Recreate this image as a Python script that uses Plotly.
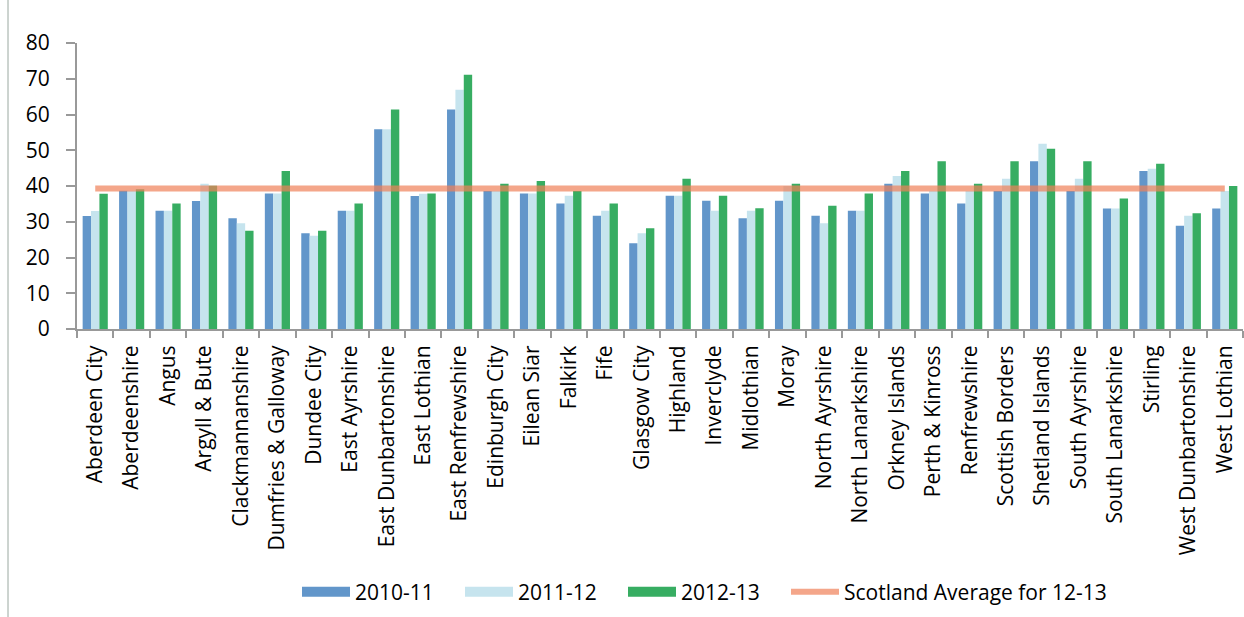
import plotly.graph_objects as go

categories = ["Aberdeen City", "Aberdeenshire", "Angus", "Argyll & Bute", "Clackmannanshire",
              "Dumfries & Galloway", "Dundee City", "East Ayrshire", "East Dunbartonshire",
              "East Lothian", "East Renfrewshire", "Edinburgh City", "Eilean Siar", "Falkirk",
              "Fife", "Glasgow City", "Highland", "Inverclyde", "Midlothian", "Moray",
              "North Ayrshire", "North Lanarkshire", "Orkney Islands", "Perth & Kinross",
              "Renfrewshire", "Scottish Borders", "Shetland Islands", "South Ayrshire",
              "South Lanarkshire", "Stirling", "West Dunbartonshire", "West Lothian"]

y2010_11 = [31.6, 38.7, 33.1, 35.8, 31.0, 37.9, 26.8, 33.1, 55.9, 37.2, 61.4, 38.6, 37.9, 35.1,
            31.7, 24.0, 37.3, 35.9, 31.0, 35.9, 31.7, 33.1, 40.6, 37.9, 35.1, 38.6, 46.9, 38.6,
            33.7, 44.2, 28.9, 33.7]
y2011_12 = [33.0, 38.7, 33.1, 40.6, 29.6, 37.9, 26.1, 33.1, 55.9, 37.8, 66.9, 38.6, 37.9, 37.3,
            33.1, 26.8, 37.3, 33.1, 33.1, 40.0, 29.6, 33.1, 42.8, 38.6, 38.6, 42.0, 51.8, 42.0,
            33.7, 44.8, 31.7, 38.6]
y2012_13 = [37.8, 39.1, 35.1, 40.1, 27.5, 44.2, 27.5, 35.1, 61.4, 37.9, 71.1, 40.6, 41.4, 38.6,
            35.1, 28.2, 42.0, 37.3, 33.8, 40.6, 34.5, 37.9, 44.2, 46.9, 40.6, 46.9, 50.4, 46.9,
            36.5, 46.2, 32.4, 40.0]
scotland_avg = 39.3

series_names = ["2010-11", "2011-12", "2012-13", "Scotland Average for 12-13"]
bar_colors = ["#6296CA", "#C6E4EE", "#37AD62"]
bar_values = [y2010_11, y2011_12, y2012_13]

fig = go.Figure()
for name, vals, col in zip(series_names[:3], bar_values, bar_colors):
    fig.add_bar(x=categories, y=vals, name=name, marker_color=col, marker_line_width=0,
                legendgroup=name, showlegend=False)
# wide swatches for the bar legend entries
for name, col in zip(series_names[:3], bar_colors):
    fig.add_scatter(x=[None], y=[None], name=name, mode="lines", legendgroup=name,
                    line=dict(color=col, width=14), legend="legend", hoverinfo="skip")
fig.add_scatter(x=categories, y=[scotland_avg] * len(categories), name=series_names[3],
                mode="lines", line=dict(color="rgba(240,128,88,0.7)", width=6),
                legend="legend2")

L, R, T, B = 77, 1, 43, 288
PW = 1244 - L - R
PH = 617 - T - B
legend_y = (329 - 592) / PH

fig.update_layout(
    width=1244, height=617,
    margin=dict(l=L, r=R, t=T, b=B),
    paper_bgcolor="white", plot_bgcolor="white",
    font=dict(family="Open Sans", size=21, color="black"),
    barmode="group", bargap=0.31, bargroupgap=0,
    showlegend=True,
    legend=dict(orientation="h", x=(297 - L) / PW, xanchor="left", y=legend_y,
                yanchor="middle", font=dict(size=21), entrywidth=100, itemwidth=48,
                bgcolor="rgba(0,0,0,0)"),
    legend2=dict(orientation="h", x=(786 - L) / PW, xanchor="left", y=legend_y,
                 yanchor="middle", font=dict(size=21), itemwidth=48,
                 bgcolor="rgba(0,0,0,0)"),
    xaxis=dict(showline=True, linecolor="#999999", linewidth=2, ticks="outside",
               tickson="boundaries", ticklen=7, tickcolor="#999999", tickwidth=2,
               tickangle=-90, showgrid=False, tickfont=dict(size=21),
               ticklabelstandoff=6),
    yaxis=dict(range=[0, 80], dtick=10, showline=True, linecolor="#999999", linewidth=2,
               ticks="outside", ticklen=9, tickcolor="#999999", tickwidth=2,
               showgrid=False, zeroline=False, tickfont=dict(size=21),
               ticklabelstandoff=12),
    shapes=[dict(type="line", xref="paper", yref="paper",
                 x0=(8 - L) / PW, x1=(8 - L) / PW, y0=-B / PH, y1=(T + PH) / PH,
                 line=dict(color="#9AA8A0", width=1))],
)

fig.write_html("out.html")
